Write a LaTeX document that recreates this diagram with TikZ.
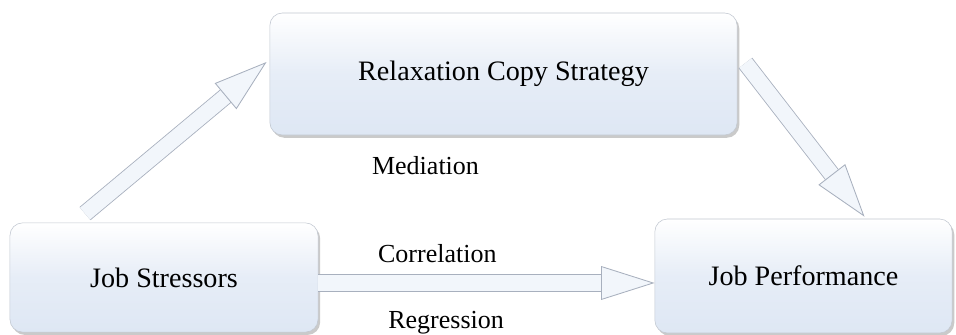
\documentclass[tikz,border=0pt]{standalone}
\usepackage{tikz}
\usepackage{fontspec}
\setmainfont{Liberation Serif}
\usetikzlibrary{arrows.meta,shapes,positioning,calc,shadows}
\definecolor{BoxBlue}  {RGB}{222,231,244}
\definecolor{EdgeGrey} {RGB}{168,176,190}
\definecolor{ArrowFill}{RGB}{242,246,251}

\begin{document}
\begin{tikzpicture}[x=0.025cm,y=0.025cm,
    box/.style={draw=EdgeGrey!70,rounded corners=9pt,top color=white,bottom color=BoxBlue,
      middle color=BoxBlue!75,inner sep=0pt,font=\fontsize{20}{24}\selectfont,
      drop shadow={shadow xshift=1.5pt,shadow yshift=-2pt,opacity=0.35,fill=black!60}},
    blockarrow/.style={draw=EdgeGrey,line width=0.6pt,double=ArrowFill,double distance=11pt,
      -{Triangle[open,fill=ArrowFill,length=38pt,width=24pt]}},
    lab/.style={font=\fontsize{18.5}{22}\selectfont}]
  \useasboundingbox (0,0) rectangle (956,335);
  \node[box,minimum width=11.68cm,minimum height=3.05cm] (relax) at (503.5,261) {Relaxation Copy Strategy};
  \node[box,minimum width=7.7cm,minimum height=2.73cm] (stress) at (164,57.5) {Job Stressors};
  \node[box,minimum width=7.43cm,minimum height=2.85cm] (perf) at (803.5,59) {Job Performance};
  \draw[blockarrow] ($(stress.north)+(-79,9)$) -- ($(relax.west)+(-3,12)$);
  \draw[blockarrow] ($(relax.east)+(8,11)$) -- ($(perf.north)+(61,2)$);
  \draw[blockarrow] ($(stress.east)+(0,-5.5)$) -- ($(perf.west)+(0,-7)$)
    node[lab,pos=0.354,yshift=21pt] (corr) {Correlation}
    node[lab,pos=0.38,yshift=-28pt] (regr) {Regression};
  \node[lab] (med) at ($(relax.south)+(-78,-30)$) {Mediation};
\end{tikzpicture}
\end{document}
